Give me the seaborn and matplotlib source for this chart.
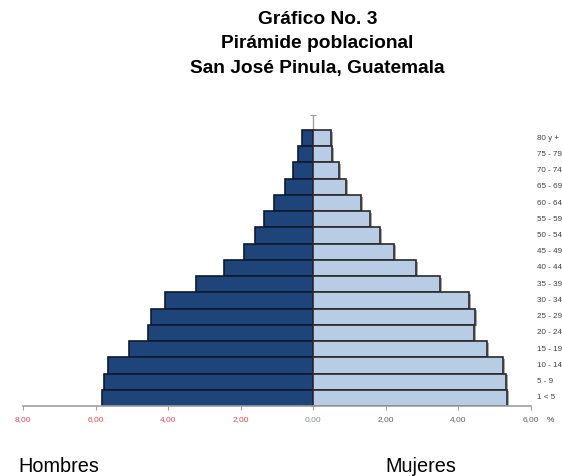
import matplotlib
matplotlib.use("Agg")
import matplotlib.pyplot as plt
import matplotlib.patheffects as pe
import seaborn as sns
import pandas as pd

# Age groups, oldest at the top
age_groups = ["80 y +", "75 - 79", "70 - 74", "65 - 69", "60 - 64", "55 - 59",
              "50 - 54", "45 - 49", "40 - 44", "35 - 39", "30 - 34", "25 - 29",
              "20 - 24", "15 - 19", "10 - 14", "5 - 9", "1 < 5"]
# Percentage of total population
hombres = [0.30, 0.41, 0.55, 0.77, 1.07, 1.35, 1.60, 1.90, 2.45, 3.22,
           4.10, 4.46, 4.55, 5.07, 5.67, 5.78, 5.81]
mujeres = [0.50, 0.52, 0.72, 0.91, 1.32, 1.57, 1.85, 2.23, 2.84, 3.50,
           4.30, 4.46, 4.43, 4.79, 5.23, 5.32, 5.35]

tick_values = [-8, -6, -4, -2, 0, 2, 4, 6]
tick_labels = ["8,00", "6,00", "4,00", "2,00", "0,00", "2,00", "4,00", "6,00"]

df = pd.DataFrame({"grupo": age_groups,
                   "hombres": [-v for v in hombres],
                   "mujeres": mujeres})

sns.set_style("white")
plt.rcParams["font.family"] = ["Liberation Sans", "DejaVu Sans"]

fig = plt.figure(figsize=(5.62, 4.76), dpi=100)
ax = fig.add_axes([23 / 562, 70 / 476, 508 / 562, 291 / 476])

shadow = [pe.SimplePatchShadow(offset=(1.2, -1.2), shadow_rgbFace="#808080", alpha=0.7),
          pe.Normal()]

sns.barplot(data=df, x="hombres", y="grupo", orient="h", color="#1f4479",
            saturation=1, width=1.0, edgecolor="#0d1a30", linewidth=1.2, ax=ax)
sns.barplot(data=df, x="mujeres", y="grupo", orient="h", color="#b9cce6",
            saturation=1, width=1.0, edgecolor="#2a2a2a", linewidth=1.2, ax=ax)
for p in ax.patches:
    p.set_path_effects(shadow)

n = len(age_groups)
ax.set_xlim(-8, 6)
ax.set_ylim(n - 0.5, -1.42)

for s in ["top", "right"]:
    ax.spines[s].set_visible(False)
ax.spines["left"].set_position(("data", 0))
ax.spines["left"].set_color("#a0a0a0")
ax.spines["left"].set_linewidth(1.0)
ax.spines["left"].set_zorder(0.5)
ax.spines["bottom"].set_color("#a0a0a0")
ax.spines["bottom"].set_linewidth(1.2)

ax.set_yticks([i - 0.5 for i in range(n + 1)] + [-1.42])
ax.set_yticklabels([])
ax.tick_params(axis="y", direction="inout", length=4, width=0.8, colors="#a0a0a0", left=True)

ax.set_xticks(tick_values)
ax.set_xticklabels(tick_labels)
ax.tick_params(axis="x", direction="out", length=3, width=0.8, colors="#a0a0a0",
               labelsize=6, pad=4, bottom=True)
for lbl, v in zip(ax.get_xticklabels(), tick_values):
    lbl.set_color("#e0485c" if v < 0 else ("#8a8a9a" if v == 0 else "#606060"))

ax.set_xlabel("")
ax.set_ylabel("")

# Age-group labels to the right of the plot
for i, g in enumerate(age_groups):
    ax.text(6.17, i, g, fontsize=5.8, color="#404040", va="center", ha="left",
            clip_on=False)
fig.text(550 / 562, 1 - 421 / 476, "%", fontsize=6, color="#404040",
         va="center", ha="center")

title_lines = ["Gráfico No. 3", "Pirámide poblacional", "San José Pinula, Guatemala"]
for k, line in enumerate(title_lines):
    fig.text(0.565, 1 - (19 + 25 * k) / 476, line, ha="center", va="center",
             fontsize=13.8, fontweight="bold", color="black")

fig.text(18 / 562, 1 - 466 / 476, "Hombres", ha="left", va="center",
         fontsize=14.3, color="black")
fig.text(385 / 562, 1 - 466 / 476, "Mujeres", ha="left", va="center",
         fontsize=14.3, color="black")

fig.savefig("out.png", dpi=100)
